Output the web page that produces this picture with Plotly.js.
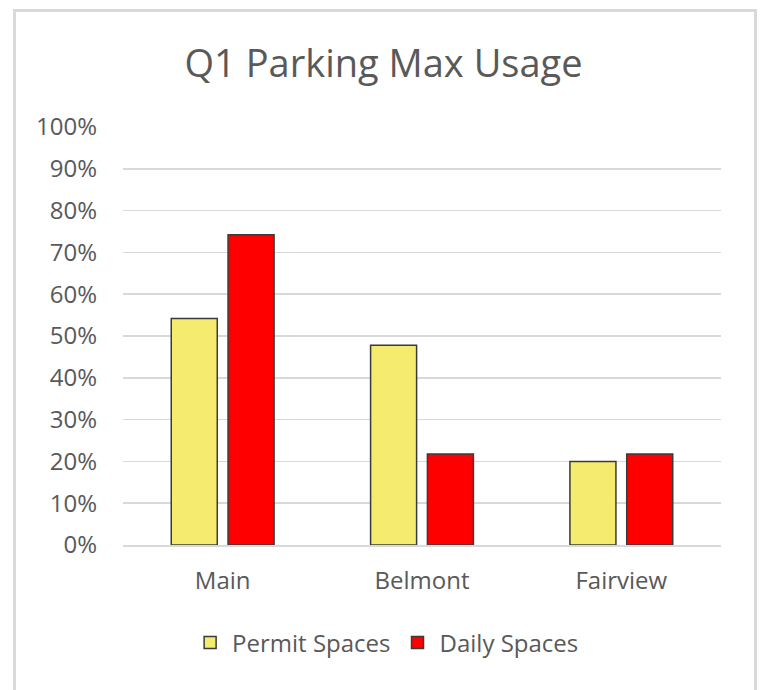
<!DOCTYPE html>
<html>
<head>
<meta charset="utf-8">
<script src="https://cdn.plot.ly/plotly-3.0.1.min.js"></script>
<style>
  html, body { margin: 0; padding: 0; background: #fff; }
  #chart { position: absolute; left: 0; top: 0; width: 761px; height: 690px; }
  #frame { position: absolute; left: 13px; top: 9px; width: 744px; height: 684px;
           border: 3px solid #d9d9d9; box-sizing: border-box; pointer-events: none; }
</style>
</head>
<body>
<div id="chart"></div>
<div id="frame"></div>
<script>
const categories = ['Main', 'Belmont', 'Fairview'];
const permitSpaces = [0.542, 0.478, 0.200];
const dailySpaces = [0.742, 0.218, 0.218];
const yTickVals = [0, 0.1, 0.2, 0.3, 0.4, 0.5, 0.6, 0.7, 0.8, 0.9, 1.0];
const yTickText = ['0%', '10%', '20%', '30%', '40%', '50%', '60%', '70%', '80%', '90%', '100%'];

const FONT = 'Open Sans, Noto Sans, sans-serif';
const TXT = '#595959';

const traces = [
  {
    type: 'bar', name: 'Permit Spaces', x: categories, y: permitSpaces,
    marker: { color: '#F5EB6E', line: { color: '#3a3a3a', width: 1.5 } },
    hoverinfo: 'none'
  },
  {
    type: 'bar', name: 'Daily Spaces', x: categories, y: dailySpaces,
    marker: { color: '#FF0000', line: { color: '#3a3a3a', width: 1.5 } },
    hoverinfo: 'none'
  }
];

const layout = {
  width: 761, height: 690,
  margin: { l: 123, r: 40, t: 127, b: 145 },
  paper_bgcolor: '#ffffff', plot_bgcolor: '#ffffff',
  font: { family: FONT, color: TXT, size: 24 },
  title: {
    text: 'Q1 Parking Max Usage',
    font: { family: FONT, size: 38, color: TXT },
    x: 0.504, xanchor: 'center', y: 0.908, yanchor: 'middle'
  },
  barmode: 'group',
  bargap: 0.43,
  bargroupgap: 0.19,
  xaxis: {
    showgrid: false, showline: true, linecolor: '#d9d9d9', linewidth: 1.5,
    ticks: '', tickfont: { family: FONT, size: 24, color: TXT },
    ticklabelstandoff: 14
  },
  yaxis: {
    range: [0, 1.0], tickvals: yTickVals, ticktext: yTickText,
    showgrid: true, gridcolor: '#d9d9d9', gridwidth: 1.5,
    zeroline: false, showline: false, ticks: '',
    tickfont: { family: FONT, size: 24, color: TXT },
    ticklabelstandoff: 25
  },
  showlegend: true,
  legend: {
    orientation: 'h', x: 0.44, xanchor: 'center', y: -0.234, yanchor: 'middle',
    font: { family: FONT, size: 24, color: TXT },
    itemwidth: 34, traceorder: 'normal'
  }
};

Plotly.newPlot('chart', traces, layout, { displayModeBar: false, staticPlot: true });
</script>
</body>
</html>
